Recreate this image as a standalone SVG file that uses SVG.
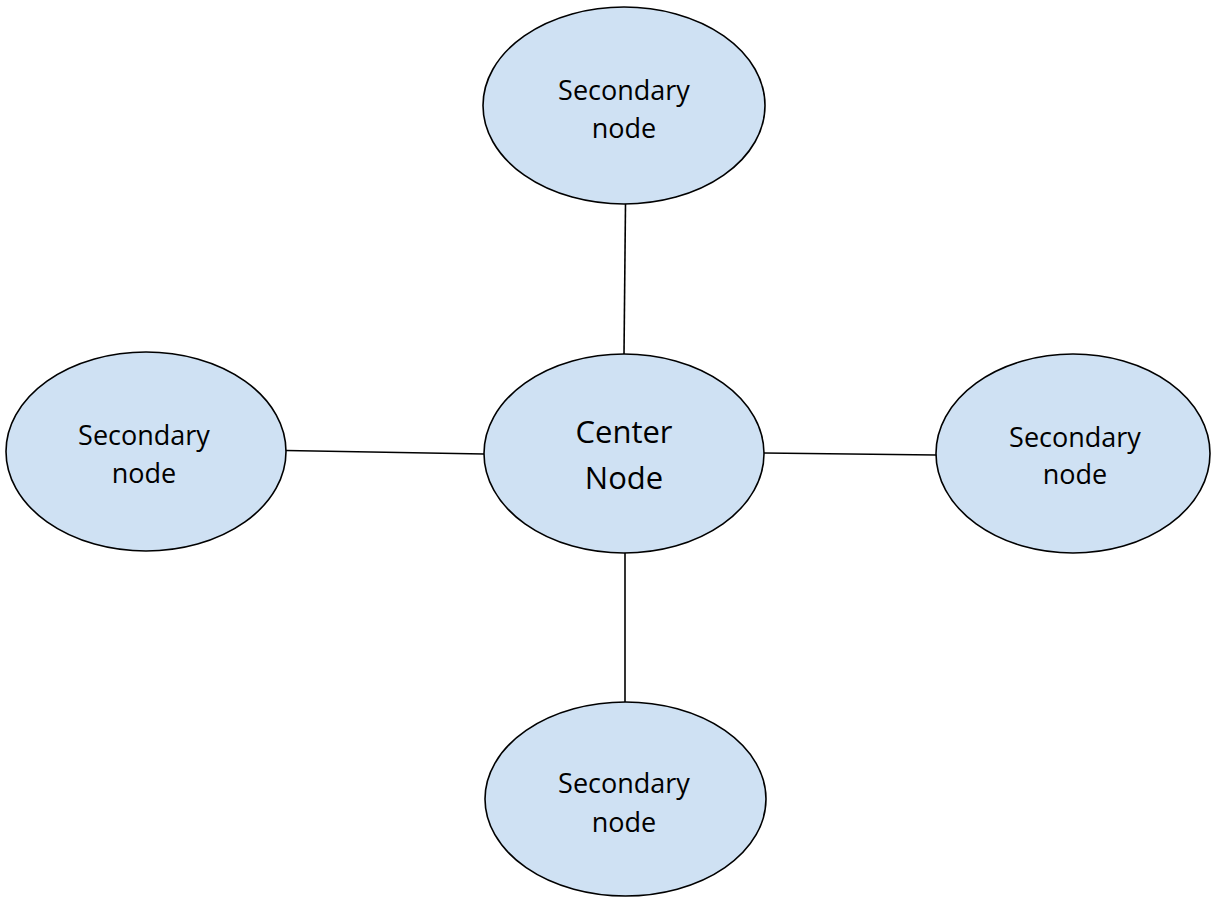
<svg xmlns="http://www.w3.org/2000/svg" width="1212" height="898" viewBox="0 0 1212 898">
  <style>
    .node ellipse { fill: #cfe1f3; stroke: #000; stroke-width: 1.6; }
    .node text { font-family: "Open Sans", "Liberation Sans", sans-serif; fill: #000; text-anchor: middle; }
    .sec text { font-size: 27px; }
    .main text { font-size: 31px; }
    #connectors line { stroke: #000; stroke-width: 1.6; }
  </style>
  <rect width="1212" height="898" fill="#fff"/>

  <g id="connectors">
    <line x1="625.5" y1="204" x2="624" y2="354"/>
    <line x1="286" y1="450.5" x2="484" y2="454"/>
    <line x1="764" y1="453" x2="936" y2="455"/>
    <line x1="625" y1="553" x2="625" y2="702"/>
  </g>

  <g id="node-top" class="node sec">
    <ellipse cx="624" cy="105.5" rx="141" ry="98.5"/>
    <text x="624" y="100">Secondary</text>
    <text x="624" y="138">node</text>
  </g>

  <g id="node-center" class="node main">
    <ellipse cx="624" cy="453.5" rx="140" ry="99.5"/>
    <text x="624" y="443">Center</text>
    <text x="624" y="489">Node</text>
  </g>

  <g id="node-left" class="node sec">
    <ellipse cx="146" cy="451.5" rx="140" ry="99.5"/>
    <text x="144" y="445">Secondary</text>
    <text x="144" y="483">node</text>
  </g>

  <g id="node-right" class="node sec">
    <ellipse cx="1073" cy="453.5" rx="137" ry="99.5"/>
    <text x="1075" y="447">Secondary</text>
    <text x="1075" y="484">node</text>
  </g>

  <g id="node-bottom" class="node sec">
    <ellipse cx="625.5" cy="799" rx="140.5" ry="97"/>
    <text x="624" y="793">Secondary</text>
    <text x="624" y="832">node</text>
  </g>
</svg>
